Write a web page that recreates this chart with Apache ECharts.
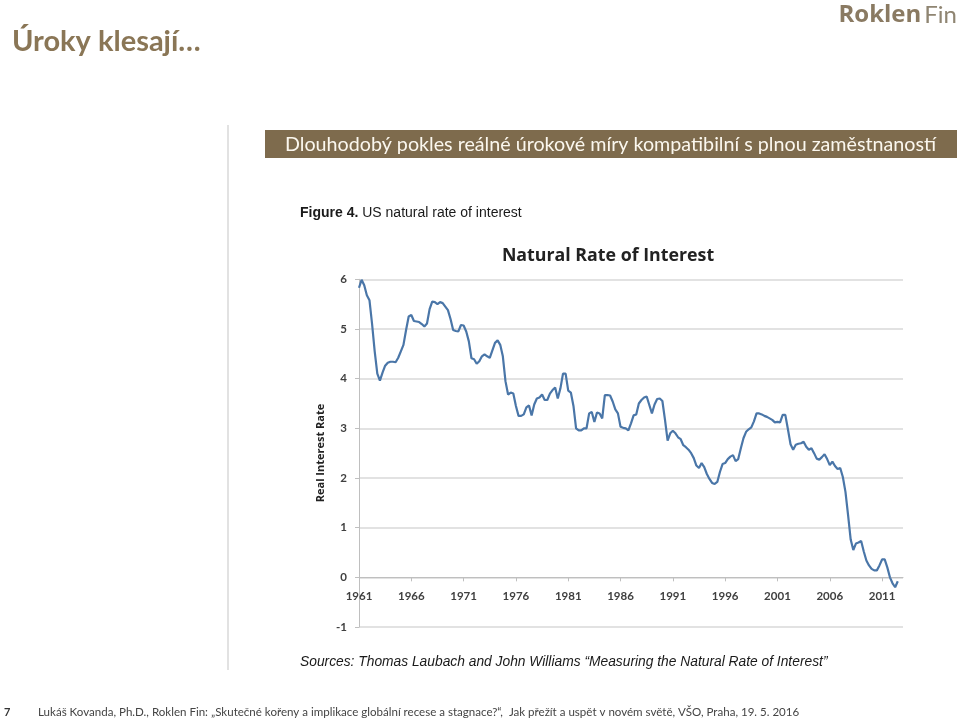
<!DOCTYPE html>
<html>
<head>
<meta charset="utf-8">
<script src="https://cdn.jsdelivr.net/npm/echarts@6/dist/echarts.min.js"></script>
<style>html,body{margin:0;padding:0;background:#fff}#c{width:960px;height:721px}</style>
</head>
<body>
<div id="c"></div>
<script>
// Quarterly natural rate of interest, 1961Q1 .. 2012Q3
const startYear = 1961;
const endYear = 2013;
const yearLabels = ['1961','1966','1971','1976','1981','1986','1991','1996','2001','2006','2011'];
const yTicks = [-1, 0, 1, 2, 3, 4, 5, 6];
const rateValues = [
  5.83, 5.99, 5.88, 5.68, 5.58, 5.10, 4.55, 4.10, 3.96, 4.12,
  4.26, 4.32, 4.34, 4.34, 4.33, 4.42, 4.55, 4.68, 4.98, 5.25,
  5.28, 5.16, 5.15, 5.14, 5.10, 5.05, 5.11, 5.40, 5.55, 5.54,
  5.50, 5.54, 5.52, 5.45, 5.38, 5.20, 4.98, 4.96, 4.95, 5.08,
  5.07, 4.95, 4.75, 4.41, 4.39, 4.30, 4.35, 4.45, 4.49, 4.45,
  4.42, 4.57, 4.72, 4.77, 4.68, 4.45, 3.95, 3.68, 3.72, 3.70,
  3.45, 3.25, 3.25, 3.28, 3.42, 3.46, 3.26, 3.48, 3.60, 3.62,
  3.68, 3.57, 3.57, 3.70, 3.77, 3.82, 3.60, 3.80, 4.10, 4.10,
  3.76, 3.72, 3.45, 3.00, 2.96, 2.96, 3.00, 3.00, 3.30, 3.33,
  3.13, 3.32, 3.30, 3.20, 3.67, 3.67, 3.66, 3.54, 3.38, 3.30,
  3.03, 3.01, 3.00, 2.96, 3.10, 3.26, 3.28, 3.50, 3.57, 3.62,
  3.64, 3.47, 3.30, 3.48, 3.59, 3.60, 3.55, 3.17, 2.75, 2.90,
  2.95, 2.90, 2.82, 2.78, 2.66, 2.62, 2.57, 2.50, 2.40, 2.25,
  2.20, 2.30, 2.22, 2.08, 1.98, 1.90, 1.88, 1.92, 2.12, 2.28,
  2.30, 2.38, 2.43, 2.46, 2.34, 2.38, 2.60, 2.80, 2.93, 2.98,
  3.02, 3.14, 3.30, 3.30, 3.28, 3.25, 3.23, 3.20, 3.17, 3.12,
  3.13, 3.12, 3.27, 3.27, 2.98, 2.68, 2.57, 2.67, 2.69, 2.70,
  2.73, 2.63, 2.57, 2.60, 2.50, 2.39, 2.37, 2.42, 2.48, 2.38,
  2.26, 2.33, 2.24, 2.18, 2.20, 2.02, 1.72, 1.25, 0.76, 0.55,
  0.68, 0.70, 0.73, 0.52, 0.34, 0.24, 0.17, 0.14, 0.14, 0.24,
  0.36, 0.36, 0.20, 0.00, -0.12, -0.20, -0.08
];

const categories = [];
for (let y = startYear; y <= endYear; y++) {
  for (let q = 1; q <= 4; q++) categories.push(y + 'Q' + q);
}
const cats = categories.slice(0, rateValues.length + 2);

const chart = echarts.init(document.getElementById('c'), null, {renderer: 'canvas'});
const isLabelIdx = (idx) => yearLabels.indexOf(cats[idx].slice(0, 4)) >= 0 && cats[idx].endsWith('Q1');

const gridTop = 279.3, gridBottom = 94;
const plotH = 721 - gridTop - gridBottom;
const zeroOffset = -plotH / (yTicks[yTicks.length - 1] - yTicks[0]) * (0 - yTicks[0]);

chart.setOption({
  animation: false,
  backgroundColor: '#ffffff',
  grid: {left: 359, right: 57, top: gridTop, bottom: gridBottom, containLabel: false},
  xAxis: {
    type: 'category',
    data: cats,
    boundaryGap: false,
    position: 'bottom',
    offset: zeroOffset,
    axisLine: {onZero: false, lineStyle: {color: '#bfbfbf', width: 1}},
    axisTick: {show: true, interval: (i) => isLabelIdx(i), length: 4, lineStyle: {color: '#bfbfbf'}},
    axisLabel: {
      interval: (i) => isLabelIdx(i),
      formatter: (v) => v.slice(0, 4),
      margin: 13,
      color: '#404040',
      fontFamily: 'Lato, "Open Sans", sans-serif',
      fontSize: 11.5,
      fontWeight: 'bold'
    },
    splitLine: {show: false}
  },
  yAxis: {
    type: 'value',
    min: yTicks[0],
    max: yTicks[yTicks.length - 1],
    interval: 1,
    axisLine: {show: true, lineStyle: {color: '#bfbfbf', width: 1}},
    axisTick: {show: true, length: 4, lineStyle: {color: '#bfbfbf'}},
    axisLabel: {
      margin: 12,
      color: '#404040',
      fontFamily: 'Lato, "Open Sans", sans-serif',
      fontSize: 11.5,
      fontWeight: 'bold'
    },
    splitLine: {show: true, lineStyle: {color: '#d9d9d9', width: 1.5}}
  },
  series: [{
    type: 'line',
    data: rateValues,
    symbol: 'none',
    smooth: false,
    lineStyle: {color: '#4a76a8', width: 2.2},
    z: 5
  }],
  graphic: [
    {type: 'text', left: 12, top: 27, style: {text: 'Úroky klesají…', font: 'bold 29px Lato, "Open Sans", sans-serif', fill: '#8a7656'}},
    {type: 'text', right: 3, top: 3, style: {
      text: '{a|Roklen}{b|Fin}',
      rich: {
        a: {fontFamily: '"Open Sans", Lato, sans-serif', fontWeight: 'bold', fontSize: 24, fill: '#8a7a62', color: '#8a7a62'},
        b: {fontFamily: 'Lato, "Open Sans", sans-serif', fontWeight: 'normal', fontSize: 24, fill: '#8f8572', color: '#8f8572', padding: [0, 0, 0, 3]}
      }
    }},
    {type: 'line', shape: {x1: 228, y1: 125, x2: 228, y2: 670}, style: {stroke: '#d9d9d9', lineWidth: 1.5}},
    {type: 'rect', shape: {x: 265, y: 130, width: 692, height: 28}, style: {fill: '#7e6b4d'}},
    {type: 'text', x: 285, y: 145, style: {text: 'Dlouhodobý pokles reálné úrokové míry kompatibilní s plnou zaměstnaností', font: '19.7px Lato, "Open Sans", sans-serif', fill: '#fbf7ee', verticalAlign: 'middle'}},
    {type: 'text', x: 300, y: 213, style: {
      text: '{b|Figure 4.} US natural rate of interest',
      font: '14px "Liberation Sans", Arial, sans-serif', fill: '#1a1a1a', verticalAlign: 'middle',
      rich: {b: {fontWeight: 'bold', fontFamily: '"Liberation Sans", Arial, sans-serif', fontSize: 14, fill: '#1a1a1a'}}
    }},
    {type: 'text', x: 608, y: 256, style: {text: 'Natural Rate of Interest', font: 'bold 17.8px "Open Sans", Lato, sans-serif', fill: '#222222', align: 'center', verticalAlign: 'middle'}},
    {type: 'text', x: 321, y: 453, rotation: Math.PI / 2, style: {text: 'Real Interest Rate', font: 'bold 11px "Open Sans", Lato, sans-serif', fill: '#222222', align: 'center', verticalAlign: 'middle'}},
    {type: 'text', x: 300, y: 662, style: {text: 'Sources: Thomas Laubach and John Williams “Measuring the Natural Rate of Interest”', font: 'italic 13.8px "Liberation Sans", Arial, sans-serif', fill: '#1a1a1a', verticalAlign: 'middle'}},
    {type: 'text', x: 4, y: 712, style: {text: '7', font: 'bold 11px Lato, sans-serif', fill: '#333333', verticalAlign: 'middle'}},
    {type: 'text', x: 38, y: 712, style: {text: 'Lukáš Kovanda, Ph.D., Roklen Fin: „Skutečné kořeny a implikace globální recese a stagnace?“,  Jak přežít a uspět v novém světě, VŠO, Praha, 19. 5. 2016', font: '11.55px Lato, sans-serif', fill: '#444444', verticalAlign: 'middle'}}
  ]
});
</script>
</body>
</html>
